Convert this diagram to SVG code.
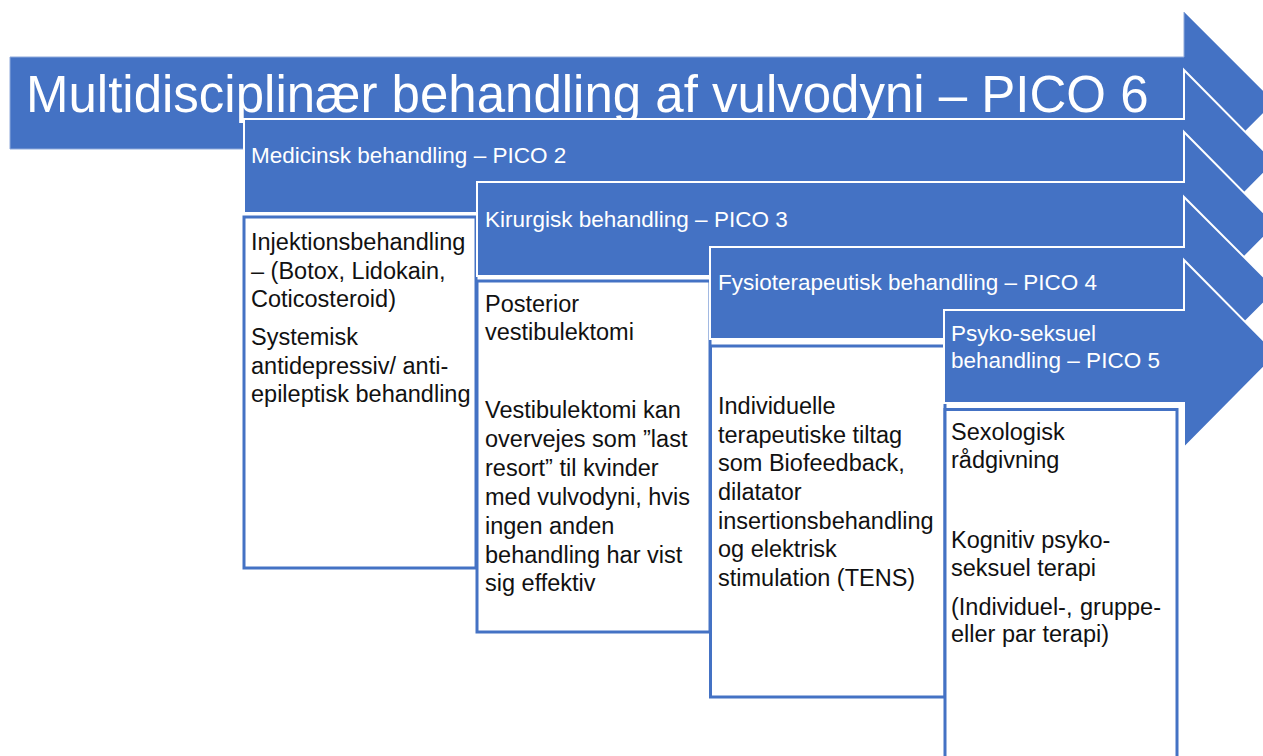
<svg xmlns="http://www.w3.org/2000/svg" width="1263" height="756" viewBox="0 0 1263 756">
<style>
.arr{fill:#4472C4;stroke:#fff;stroke-width:2;stroke-linejoin:miter}
.main{fill:#4472C4;stroke:#8EA9DB;stroke-width:1}
.box{fill:#fff;stroke:#4472C4;stroke-width:3}
.wt{font-family:"Liberation Sans",Arial,sans-serif;font-size:22.5px;fill:#fff}
.bt{font-family:"Liberation Sans",Arial,sans-serif;font-size:23.5px;fill:#111}
.title{font-family:"Liberation Sans",Arial,sans-serif;font-size:51px;fill:#fff}
</style>
<rect width="1263" height="756" fill="#fff"/>
<g id="main-arrow">
<polygon class="main" points="10,57 1184,57 1184,12 1274,102 1184,192 1184,149 10,149"/>
<text class="title" x="26" y="112">Multidisciplinær behandling af vulvodyni – PICO 6</text>
</g>
<g id="arrow-medicinsk">
<polygon class="arr" points="244,119 1184,119 1184,70 1275,162 1184,254 1184,213 244,213"/>
<text class="wt" x="251" y="163">Medicinsk behandling – PICO 2</text>
</g>
<g id="box-medicinsk">
<rect class="box" x="244" y="217" width="232" height="351"/>
<text class="bt" x="251" y="250">Injektionsbehandling</text>
<text class="bt" x="251" y="279">– (Botox, Lidokain,</text>
<text class="bt" x="251" y="307">Coticosteroid)</text>
<text class="bt" x="251" y="345">Systemisk</text>
<text class="bt" x="251" y="374">antidepressiv/ anti-</text>
<text class="bt" x="251" y="402">epileptisk behandling</text>
</g>
<g id="arrow-kirurgisk">
<polygon class="arr" points="477,182 1184,182 1184,132 1276,225 1184,318 1184,276 477,276"/>
<text class="wt" x="485" y="227">Kirurgisk behandling – PICO 3</text>
</g>
<g id="box-kirurgisk">
<rect class="box" x="477" y="281" width="233" height="351"/>
<text class="bt" x="485" y="312">Posterior</text>
<text class="bt" x="485" y="340">vestibulektomi</text>
<text class="bt" x="485" y="418">Vestibulektomi kan</text>
<text class="bt" x="485" y="447">overvejes som ”last</text>
<text class="bt" x="485" y="476">resort” til kvinder</text>
<text class="bt" x="485" y="505">med vulvodyni, hvis</text>
<text class="bt" x="485" y="534">ingen anden</text>
<text class="bt" x="485" y="563">behandling har vist</text>
<text class="bt" x="485" y="591">sig effektiv</text>
</g>
<g id="arrow-fysio">
<polygon class="arr" points="710,247 1184,247 1184,197 1277,290 1184,383 1184,339 710,339"/>
<text class="wt" x="718" y="290">Fysioterapeutisk behandling – PICO 4</text>
</g>
<g id="box-fysio">
<rect class="box" x="710.5" y="346" width="234.5" height="351"/>
<text class="bt" x="718" y="414">Individuelle</text>
<text class="bt" x="718" y="443">terapeutiske tiltag</text>
<text class="bt" x="718" y="471">som Biofeedback,</text>
<text class="bt" x="718" y="500">dilatator</text>
<text class="bt" x="718" y="529">insertionsbehandling</text>
<text class="bt" x="718" y="557">og elektrisk</text>
<text class="bt" x="718" y="586">stimulation (TENS)</text>
</g>
<g id="arrow-psyko">
<polygon class="arr" points="944,310 1184,310 1184,260 1277,354 1184,448 1184,403 944,403"/>
<text class="wt" x="951" y="341">Psyko-seksuel</text>
<text class="wt" x="951" y="368">behandling – PICO 5</text>
</g>
<g id="box-psyko">
<rect class="box" x="945" y="409.5" width="232" height="360"/>
<text class="bt" x="951" y="440">Sexologisk</text>
<text class="bt" x="951" y="468">rådgivning</text>
<text class="bt" x="951" y="548">Kognitiv psyko-</text>
<text class="bt" x="951" y="576">seksuel terapi</text>
<text class="bt" x="951" y="615">(Individuel-, <tspan x="1080">gruppe-</tspan></text>
<text class="bt" x="951" y="642">eller par terapi)</text>
</g>
<g id="connectors"/>
</svg>
